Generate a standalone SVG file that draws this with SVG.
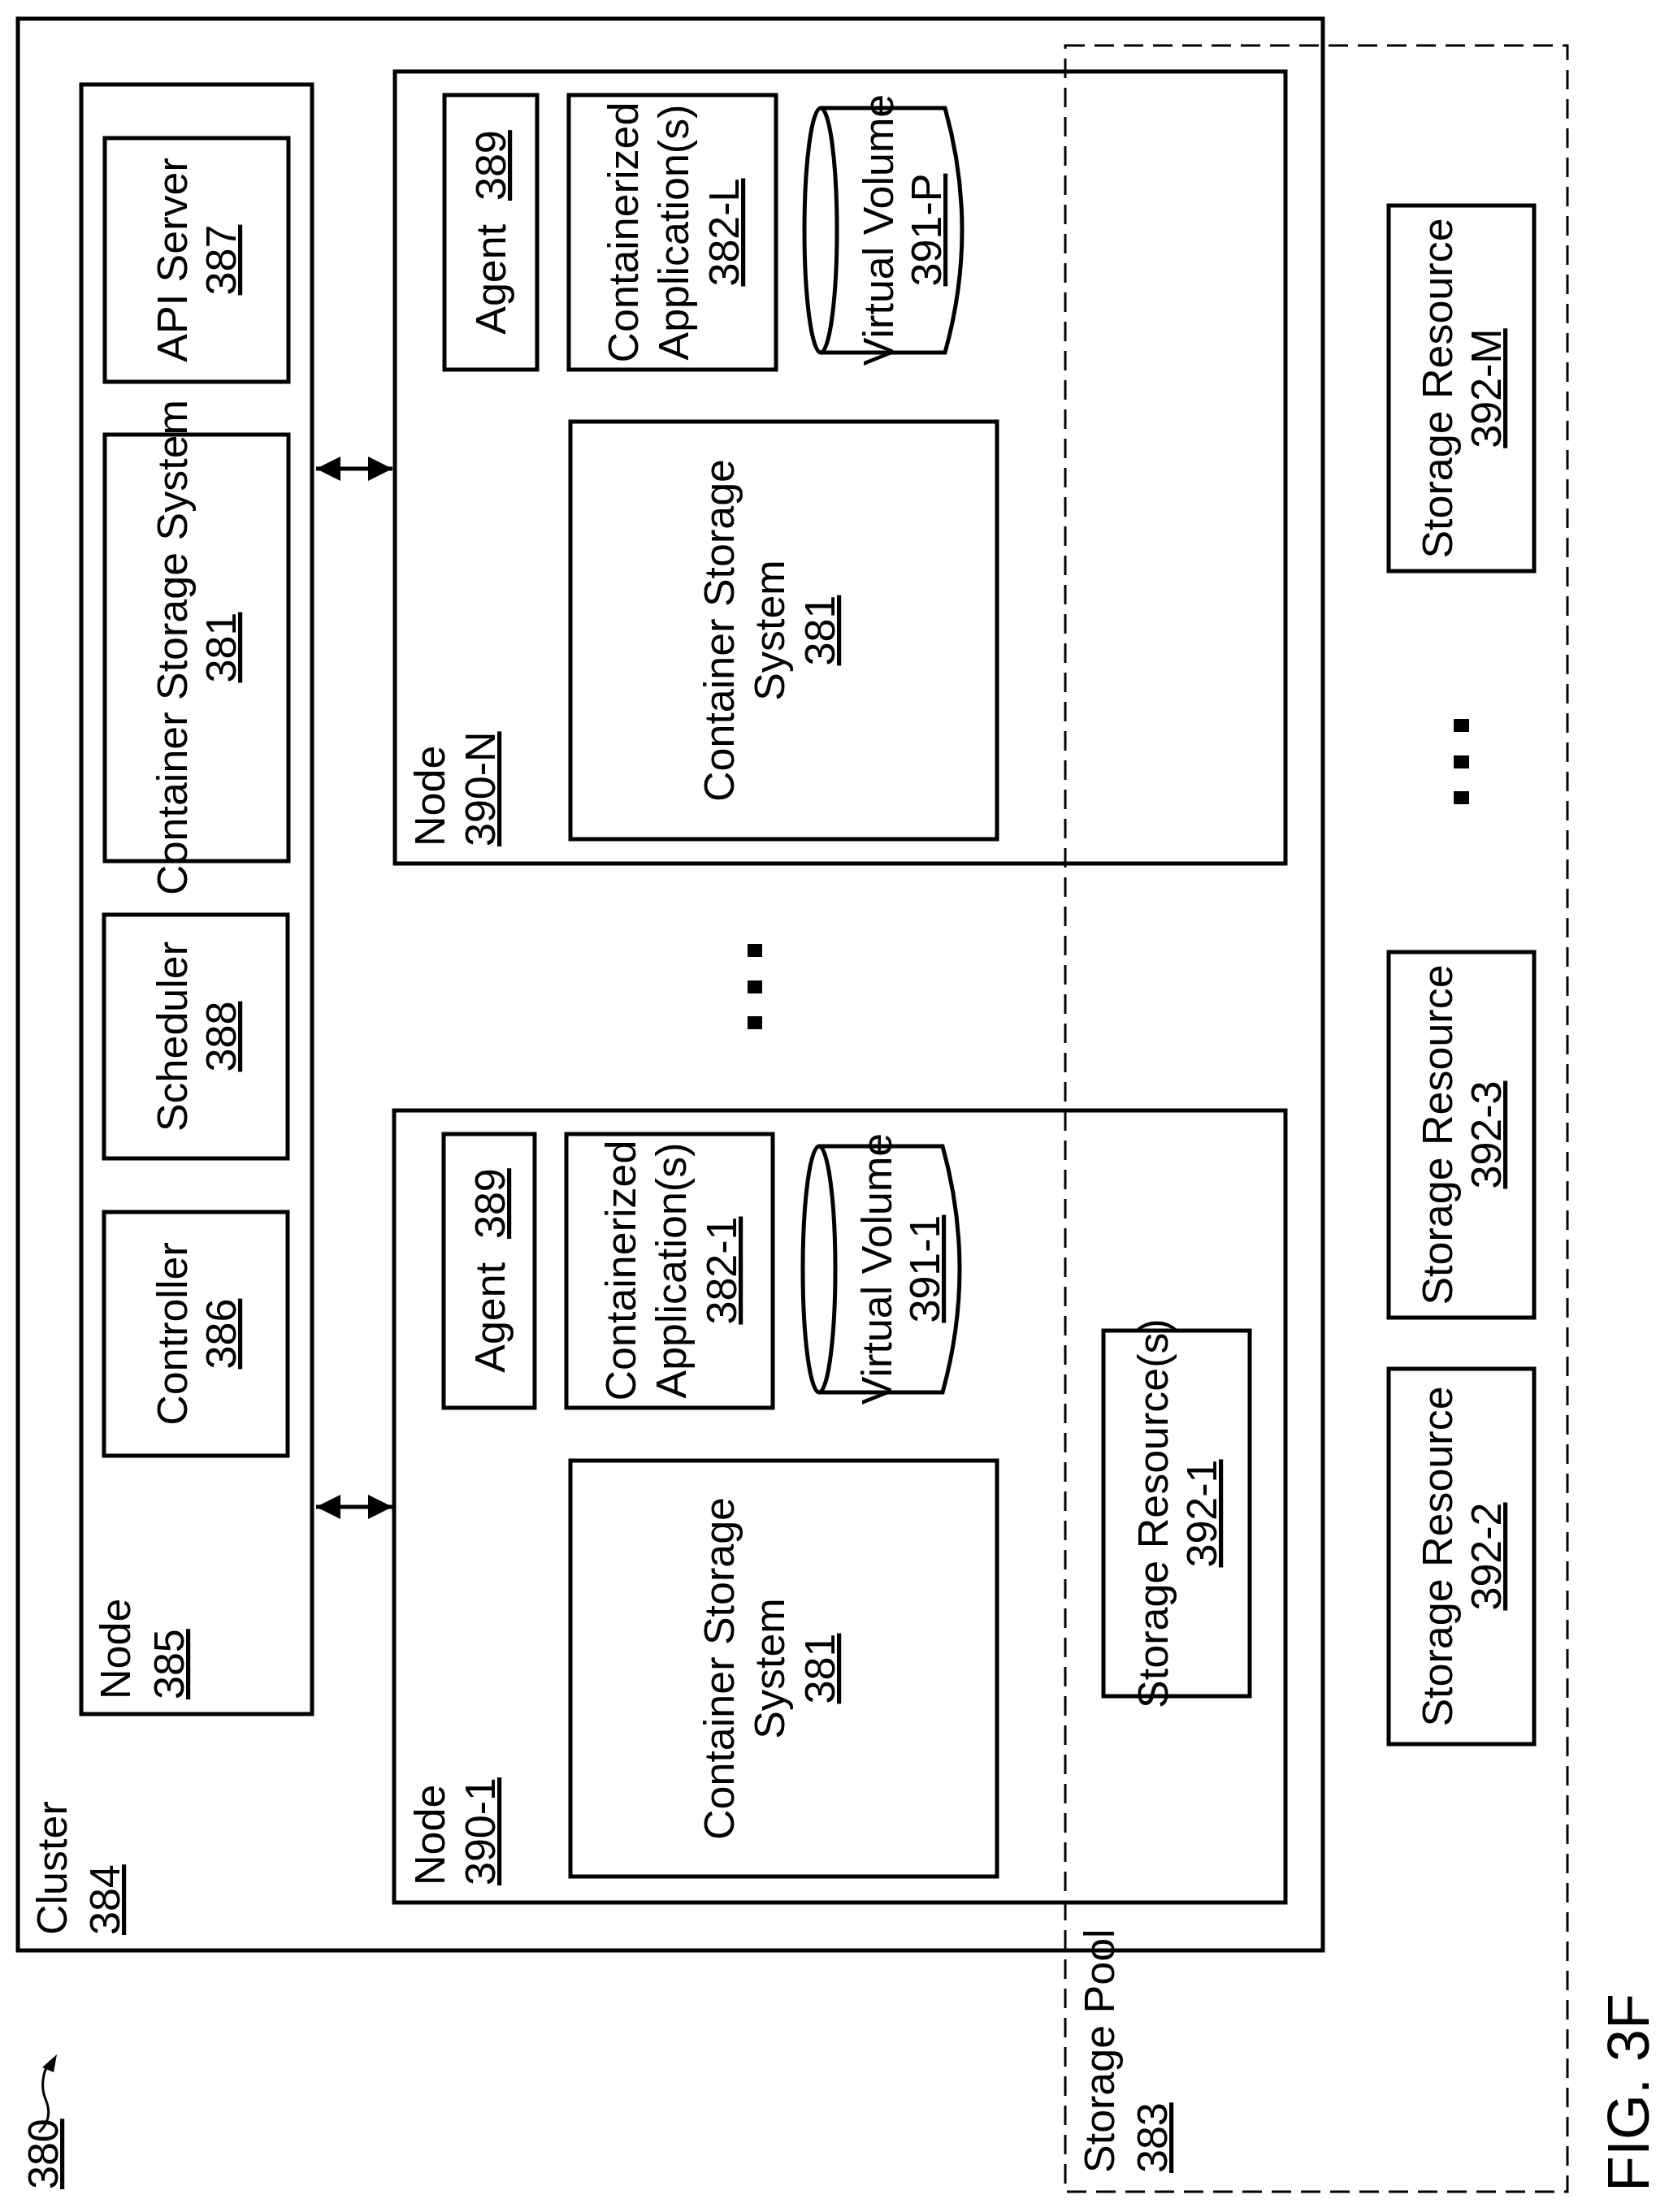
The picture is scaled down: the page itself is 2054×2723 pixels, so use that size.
<svg xmlns="http://www.w3.org/2000/svg" width="2054" height="2723" viewBox="0 0 2054 2723">
<defs>
<style>
.b{fill:none;stroke:#000;stroke-width:5}
.d{fill:none;stroke:#000;stroke-width:3;stroke-dasharray:24 12}
.t{font-family:"Liberation Sans Narrow","Liberation Sans",Arial,sans-serif;font-size:52px;fill:#000}
.u{text-decoration:underline}
.dot{fill:#000}
</style>
<marker id="ah" viewBox="0 0 10 10" refX="10" refY="5" markerWidth="6" markerHeight="6" orient="auto-start-reverse" markerUnits="strokeWidth"><path d="M0,0 L10,5 L0,10 Z" fill="#000"/></marker>
</defs>
<rect width="2054" height="2723" fill="#fff"/>

<g id="storage-pool">
<rect class="d" x="1311" y="56" width="618" height="2642"/>
<text class="t" transform="translate(1371,2675) rotate(-90)">Storage Pool</text>
<text class="t u" transform="translate(1436,2675) rotate(-90)">383</text>
</g>

<g id="cluster">
<rect class="b" x="22" y="23" width="1606" height="2378"/>
<text class="t" transform="translate(82,2382) rotate(-90)">Cluster</text>
<text class="t u" transform="translate(147,2382) rotate(-90)">384</text>
</g>

<g id="node-385">
<rect class="b" x="100" y="104" width="284" height="2006"/>
<text class="t" transform="translate(160,2092) rotate(-90)">Node</text>
<text class="t u" transform="translate(226,2092) rotate(-90)">385</text>
</g>
<g id="api-server">
<rect class="b" x="129" y="170" width="226" height="300"/>
<text class="t" text-anchor="middle" transform="translate(230,320) rotate(-90)">API Server</text>
<text class="t u" text-anchor="middle" transform="translate(290,320) rotate(-90)">387</text>
</g>
<g id="css-385">
<rect class="b" x="129" y="535" width="226" height="525"/>
<text class="t" text-anchor="middle" transform="translate(230,797) rotate(-90)">Container Storage System</text>
<text class="t u" text-anchor="middle" transform="translate(290,797) rotate(-90)">381</text>
</g>
<g id="scheduler">
<rect class="b" x="128" y="1126" width="226" height="300"/>
<text class="t" text-anchor="middle" transform="translate(230,1276) rotate(-90)">Scheduler</text>
<text class="t u" text-anchor="middle" transform="translate(290,1276) rotate(-90)">388</text>
</g>
<g id="controller">
<rect class="b" x="128" y="1492" width="226" height="300"/>
<text class="t" text-anchor="middle" transform="translate(230,1642) rotate(-90)">Controller</text>
<text class="t u" text-anchor="middle" transform="translate(290,1642) rotate(-90)">386</text>
</g>

<g id="node-390-N">
<rect class="b" x="486" y="88" width="1096" height="975"/>
<text class="t" transform="translate(547,1042) rotate(-90)">Node</text>
<text class="t u" transform="translate(609,1042) rotate(-90)">390-N</text>
</g>
<g id="agent-N">
<rect class="b" x="547" y="117" width="114" height="338"/>
<text class="t" text-anchor="middle" transform="translate(622,286) rotate(-90)" xml:space="preserve">Agent  <tspan class="u">389</tspan></text>
</g>
<g id="app-N">
<rect class="b" x="700" y="117" width="255" height="338"/>
<text class="t" text-anchor="middle" transform="translate(785,286) rotate(-90)">Containerized</text>
<text class="t" text-anchor="middle" transform="translate(847,286) rotate(-90)">Application(s)</text>
<text class="t u" text-anchor="middle" transform="translate(909,286) rotate(-90)">382-L</text>
</g>
<g id="vv-N">
<path class="b" d="M1010,133 L1163,133 Q1205,283 1163,434 L1010,434"/>
<ellipse class="b" cx="1010" cy="283.5" rx="20" ry="150.5"/>
<text class="t" text-anchor="middle" transform="translate(1099,283) rotate(-90)">Virtual Volume</text>
<text class="t u" text-anchor="middle" transform="translate(1158,283) rotate(-90)">391-P</text>
</g>
<g id="css-N">
<rect class="b" x="702" y="519" width="525" height="514"/>
<text class="t" text-anchor="middle" transform="translate(903,776) rotate(-90)">Container Storage</text>
<text class="t" text-anchor="middle" transform="translate(965,776) rotate(-90)">System</text>
<text class="t u" text-anchor="middle" transform="translate(1027,776) rotate(-90)">381</text>
</g>

<g id="node-390-1">
<rect class="b" x="485" y="1367" width="1097" height="975"/>
<text class="t" transform="translate(547,2321) rotate(-90)">Node</text>
<text class="t u" transform="translate(609,2321) rotate(-90)">390-1</text>
</g>
<g id="agent-1">
<rect class="b" x="546" y="1396" width="112" height="337"/>
<text class="t" text-anchor="middle" transform="translate(621,1564) rotate(-90)" xml:space="preserve">Agent  <tspan class="u">389</tspan></text>
</g>
<g id="app-1">
<rect class="b" x="697" y="1396" width="254" height="337"/>
<text class="t" text-anchor="middle" transform="translate(782,1564) rotate(-90)">Containerized</text>
<text class="t" text-anchor="middle" transform="translate(844,1564) rotate(-90)">Application(s)</text>
<text class="t u" text-anchor="middle" transform="translate(906,1564) rotate(-90)">382-1</text>
</g>
<g id="vv-1">
<path class="b" d="M1008,1411 L1160,1411 Q1202,1562 1160,1714 L1008,1714"/>
<ellipse class="b" cx="1008" cy="1562.5" rx="20" ry="151.5"/>
<text class="t" text-anchor="middle" transform="translate(1097,1562) rotate(-90)">Virtual Volume</text>
<text class="t u" text-anchor="middle" transform="translate(1156,1562) rotate(-90)">391-1</text>
</g>
<g id="css-1">
<rect class="b" x="702" y="1798" width="525" height="512"/>
<text class="t" text-anchor="middle" transform="translate(903,2054) rotate(-90)">Container Storage</text>
<text class="t" text-anchor="middle" transform="translate(965,2054) rotate(-90)">System</text>
<text class="t u" text-anchor="middle" transform="translate(1027,2054) rotate(-90)">381</text>
</g>
<g id="sr-392-1">
<rect class="b" x="1358" y="1638" width="180" height="450"/>
<text class="t" text-anchor="middle" transform="translate(1437,1863) rotate(-90)">Storage Resource(s)</text>
<text class="t u" text-anchor="middle" transform="translate(1497,1863) rotate(-90)">392-1</text>
</g>

<g id="sr-392-M">
<rect class="b" x="1709" y="253" width="179" height="450"/>
<text class="t" text-anchor="middle" transform="translate(1787,478) rotate(-90)">Storage Resource</text>
<text class="t u" text-anchor="middle" transform="translate(1847,478) rotate(-90)">392-M</text>
</g>
<g id="sr-392-3">
<rect class="b" x="1709" y="1172" width="179" height="450"/>
<text class="t" text-anchor="middle" transform="translate(1787,1397) rotate(-90)">Storage Resource</text>
<text class="t u" text-anchor="middle" transform="translate(1847,1397) rotate(-90)">392-3</text>
</g>
<g id="sr-392-2">
<rect class="b" x="1709" y="1685" width="179" height="462"/>
<text class="t" text-anchor="middle" transform="translate(1787,1916) rotate(-90)">Storage Resource</text>
<text class="t u" text-anchor="middle" transform="translate(1847,1916) rotate(-90)">392-2</text>
</g>

<g id="ellipsis-nodes">
<rect class="dot" x="920" y="1162" width="18" height="16"/>
<rect class="dot" x="920" y="1207" width="18" height="16"/>
<rect class="dot" x="920" y="1251" width="18" height="16"/>
</g>
<g id="ellipsis-resources">
<rect class="dot" x="1789" y="885" width="19" height="16"/>
<rect class="dot" x="1789" y="930" width="19" height="16"/>
<rect class="dot" x="1789" y="974" width="19" height="16"/>
</g>

<g id="connectors">
<line x1="389" y1="577" x2="483" y2="577" stroke="#000" stroke-width="5" marker-start="url(#ah)" marker-end="url(#ah)"/>
<line x1="389" y1="1855" x2="483" y2="1855" stroke="#000" stroke-width="5" marker-start="url(#ah)" marker-end="url(#ah)"/>
<path d="M48,2625 C62,2612 62,2598 56,2584 C50,2570 52,2548 63,2537" fill="none" stroke="#000" stroke-width="3"/>
<path d="M70,2529 L52,2545 L66,2551 Z" fill="#000"/>
</g>

<g id="label-380">
<text class="t u" transform="translate(71,2695) rotate(-90)">380</text>
</g>
<g id="fig-label">
<text class="t" style="font-size:72px" transform="translate(2029,2698) rotate(-90)">FIG. 3F</text>
</g>
</svg>
